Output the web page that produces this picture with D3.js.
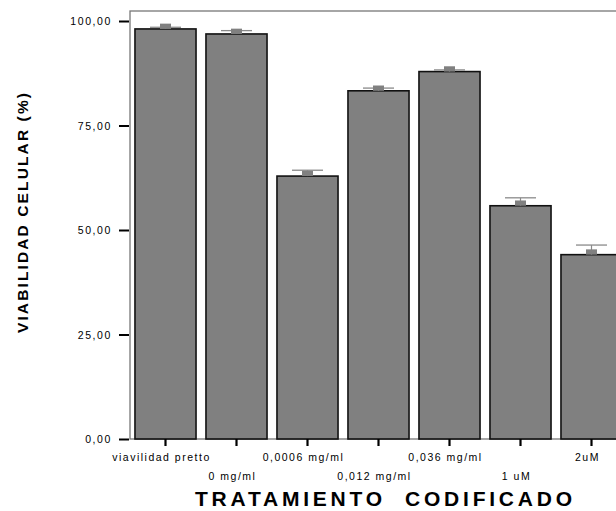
<!DOCTYPE html>
<html>
<head>
<meta charset="utf-8">
<script src="https://cdn.jsdelivr.net/npm/d3@7/dist/d3.min.js"></script>
<style>
  html, body { margin: 0; padding: 0; background: #fff; }
  svg { display: block; }
  text { font-family: "Liberation Sans", Arial, sans-serif; fill: #000; }
</style>
</head>
<body>
<svg id="chart" width="616" height="511"></svg>
<script>
// Treatment groups (x axis), mean cell viability (%) and error half-width
const categories = ["viavilidad pretto", "0 mg/ml", "0,0006 mg/ml", "0,012 mg/ml", "0,036 mg/ml", "1 uM", "2uM"];
const viability = [98.1, 96.9, 62.9, 83.3, 87.9, 55.8, 44.1];
const errors = [0.4, 0.8, 1.4, 0.65, 0.4, 1.9, 2.3];
const yTicks = [0, 25, 50, 75, 100];

const svg = d3.select("#chart");

const plot = { left: 130, top: 11, bottom: 439, right: 627 };

const x = d3.scaleBand()
  .domain(categories)
  .range([plot.left, plot.right])
  .paddingInner(0.14)
  .paddingOuter(0.07);

const y = d3.scaleLinear()
  .domain([0, 100])
  .range([plot.bottom, 21]);

// plot frame
svg.append("rect")
  .attr("x", plot.left)
  .attr("y", plot.top)
  .attr("width", 520)
  .attr("height", plot.bottom - plot.top)
  .attr("fill", "none")
  .attr("stroke", "#777")
  .attr("stroke-width", 1.3);

// y axis
const yAxis = svg.append("g")
  .attr("transform", `translate(${plot.left - 1},0)`)
  .call(d3.axisLeft(y)
    .tickValues(yTicks)
    .tickSize(10)
    .tickPadding(7)
    .tickFormat(d => d3.format(".2f")(d).replace(".", ",")));
yAxis.select(".domain").remove();
yAxis.selectAll(".tick line").attr("stroke", "#000").attr("stroke-width", 2);
yAxis.selectAll(".tick text")
  .style("font-size", "10.5px")
  .style("letter-spacing", "1.6px")
  .attr("dy", "0.35em");

// bars
svg.append("g").selectAll("rect")
  .data(categories)
  .join("rect")
  .attr("x", d => x(d))
  .attr("y", (d, i) => y(viability[i]))
  .attr("width", x.bandwidth())
  .attr("height", (d, i) => y(0) - y(viability[i]))
  .attr("fill", "#808080")
  .attr("stroke", "#111")
  .attr("stroke-width", 1.6);

// error bars: stem, cap and mean marker
const err = svg.append("g");
categories.forEach((c, i) => {
  const cx = x(c) + x.bandwidth() / 2;
  const top = y(viability[i] + errors[i]);
  const base = y(viability[i]);
  err.append("line")
    .attr("x1", cx).attr("x2", cx)
    .attr("y1", top).attr("y2", base)
    .attr("stroke", "#8a8a8a").attr("stroke-width", 1.2);
  err.append("line")
    .attr("x1", cx - 15.5).attr("x2", cx + 15.5)
    .attr("y1", top).attr("y2", top)
    .attr("stroke", "#8a8a8a").attr("stroke-width", 1.3);
  err.append("rect")
    .attr("x", cx - 5.5)
    .attr("y", base - 5.3)
    .attr("width", 11)
    .attr("height", 5.3)
    .attr("fill", "#808080");
});

// x axis with staggered labels
const xAxis = svg.append("g")
  .attr("transform", `translate(0,${plot.bottom})`)
  .call(d3.axisBottom(x).tickSize(7).tickPadding(4));
xAxis.select(".domain").remove();
xAxis.selectAll(".tick line").attr("stroke", "#000").attr("stroke-width", 2.2);
xAxis.selectAll(".tick text")
  .style("font-size", "10.5px")
  .style("letter-spacing", "1.5px")
  .attr("x", -4)
  .attr("y", (d, i) => i % 2 === 0 ? 22 : 41)
  .attr("dy", 0);

// axis titles
svg.append("text")
  .attr("x", 195)
  .attr("y", 506)
  .attr("textLength", 377)
  .attr("lengthAdjust", "spacing")
  .style("font-size", "21px")
  .style("font-weight", "600")
  .style("white-space", "pre")
  .text("TRATAMIENTO  CODIFICADO");

svg.append("text")
  .attr("transform", "translate(28,333) rotate(-90)")
  .attr("x", 0)
  .attr("y", 0)
  .attr("textLength", 240)
  .attr("lengthAdjust", "spacing")
  .style("font-size", "15.5px")
  .style("font-weight", "bold")
  .text("VIABILIDAD CELULAR (%)");
</script>
</body>
</html>
